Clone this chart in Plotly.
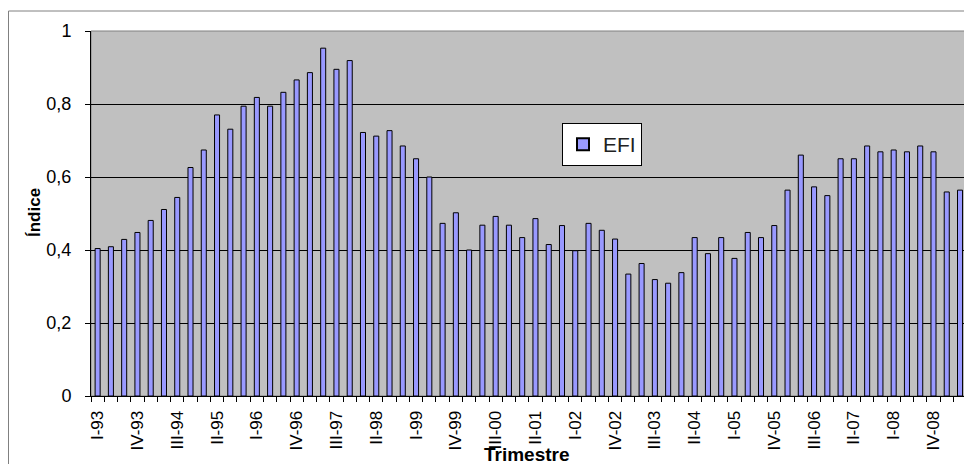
import plotly.graph_objects as go

categories = []
for yr in range(93, 110):
    for q in ["I", "II", "III", "IV"]:
        categories.append(f"{q}-{yr % 100:02d}")
categories = categories[:66]  # I-93 .. II-09

efi = [0.404, 0.409, 0.429, 0.448, 0.481, 0.511, 0.544, 0.626, 0.674, 0.770,
       0.731, 0.794, 0.818, 0.794, 0.832, 0.866, 0.886, 0.953, 0.895, 0.919,
       0.722, 0.712, 0.727, 0.685, 0.650, 0.600, 0.473, 0.502, 0.400, 0.468,
       0.492, 0.468, 0.434, 0.486, 0.415, 0.467, 0.398, 0.473, 0.454, 0.430,
       0.334, 0.363, 0.319, 0.309, 0.338, 0.434, 0.390, 0.434, 0.377, 0.448,
       0.434, 0.467, 0.564, 0.660, 0.573, 0.549, 0.650, 0.650, 0.685, 0.669,
       0.674, 0.669, 0.685, 0.669, 0.559, 0.564]

y_ticks = [0, 0.2, 0.4, 0.6, 0.8, 1.0]

idx = list(range(len(categories)))
label_idx = idx[::3]

W, H = 964, 464
L, R, T, B = 91, 0, 31, 464 - 396
pw, ph = W - L - R, H - T - B


def px(x):
    return (x - 91) / pw


def py(y):
    return (396 - y) / ph


fig = go.Figure()
fig.add_trace(go.Bar(
    x=idx, y=efi, name="EFI",
    marker=dict(color="#9999FF", line=dict(color="black", width=1)),
))

fig.update_layout(
    width=W, height=H,
    margin=dict(l=L, r=R, t=T, b=B),
    paper_bgcolor="white",
    plot_bgcolor="#C0C0C0",
    bargap=0.62,
    separators=",.",
    font=dict(family="Liberation Sans, Arial", size=12, color="black"),
    showlegend=True,
    legend=dict(
        x=px(562), y=py(123), xanchor="left", yanchor="top",
        bgcolor="white", bordercolor="black", borderwidth=1,
        font=dict(size=21, family="Liberation Sans, Arial", color="#222222"),
        itemsizing="constant",
    ),
    xaxis=dict(
        range=[-0.5, 65.3],
        tickmode="array", tickvals=label_idx,
        ticktext=[categories[i] for i in label_idx],
        tickangle=-90, ticks="", ticklen=0,
        ticklabelstandoff=7,
        showgrid=False, zeroline=False,
        showline=True, linecolor="black", linewidth=1,
        minor=dict(tickmode="array", tickvals=[i - 0.5 for i in idx] + [len(idx) - 0.5],
                   ticks="outside", ticklen=5, tickcolor="black", showgrid=False),
        tickfont=dict(size=17),
    ),
    yaxis=dict(
        range=[0, 1], tickmode="array", tickvals=y_ticks,
        ticks="outside", ticklen=5, tickcolor="black",
        ticklabelstandoff=10,
        showgrid=True, gridcolor="black", gridwidth=1,
        zeroline=False, showline=True, linecolor="black", linewidth=1,
        tickfont=dict(size=18),
    ),
    shapes=[
        dict(type="rect", xref="paper", yref="paper", x0=0, x1=1.01, y0=0, y1=1,
             line=dict(color="#808080", width=1), layer="below"),
        dict(type="rect", xref="paper", yref="paper",
             x0=px(8.5), x1=1.05, y0=-0.3, y1=py(11),
             line=dict(color="#808080", width=1)),
    ],
    annotations=[
        dict(text="<b>Índice</b>", xref="paper", yref="paper",
             x=px(35), y=py(213), showarrow=False,
             textangle=-90, font=dict(size=17), xanchor="center", yanchor="middle"),
        dict(text="<b>Trimestre</b>", xref="paper", yref="paper",
             x=px(527), y=py(467), showarrow=False,
             font=dict(size=19), xanchor="center", yanchor="bottom"),
    ],
)

fig.write_html(
    "out.html",
    config={"displayModeBar": False},
    post_script="document.body.style.margin='0';document.body.style.padding='0';"
                "document.body.style.overflow='hidden';"
                "document.documentElement.style.overflow='hidden';",
)
